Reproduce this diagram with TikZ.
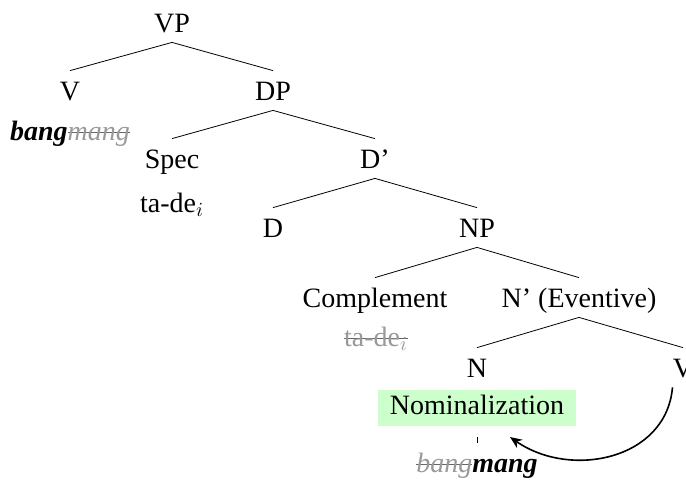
\documentclass[tikz,border=0pt]{standalone}
\usepackage{fontspec}
\setmainfont{Liberation Serif}
\usetikzlibrary{arrows.meta}

% struck-out (moved) material
\newsavebox{\strikebox}
\newcommand{\struck}[1]{\sbox{\strikebox}{\textcolor{black!40}{#1}}%
  \rlap{\textcolor{black!60}{\rule[0.55ex]{\wd\strikebox}{0.5pt}}}\usebox{\strikebox}}

\begin{document}
\begin{tikzpicture}[
            x=0.5pt, y=0.5pt,
            lbl/.style = {inner sep=0pt, text height=14.5pt, text depth=5pt, font={\fontsize{14}{16}\selectfont}},
            hl/.style = {fill=green!20, inner xsep=6pt, inner ysep=2.25pt, text height=10pt, text depth=3.5pt, font={\fontsize{14}{16}\selectfont}},
            move/.style = {thick, -{Stealth[length=6pt, width=5pt]}},
        ]
            \useasboundingbox (0,0) rectangle (686,-479);

            % Upper part of the tree
            \node[lbl] (VP) at (172,-22.5) {VP};
            \node[lbl] (V) at (70,-90.5) {V};
            \node[lbl] (DP) at (273,-90.5) {DP};
            \node[lbl] (bm1) at (70,-130.5) {\textbf{\textit{bang}}\struck{\textit{mang}}};
            \node[lbl] (Spec) at (172,-158.5) {Spec};
            \node[lbl] (tade) at (172,-202.5) {ta-de$_i$};
            \node[lbl] (Dbar) at (375,-158.5) {D’};
            \node[lbl] (D) at (273,-227.5) {D};
            \node[lbl] (NP) at (477,-227.5) {NP};

            % Lower part of the tree
            \node[lbl] (Comp) at (375,-297.5) {Complement};
            \node[lbl] (tade2) at (376,-336.5) {\struck{ta-de$_i$}};
            \node[lbl] (Nbar) at (579,-297.5) {N’ (Eventive)};
            \node[lbl] (N) at (477,-367.5) {N};
            \node[lbl] (V2) at (683,-367.5) {V};
            \node[hl] (nom) at (477,-408) {Nominalization};
            \node[lbl] (bm2) at (477,-462.5) {\struck{\textit{bang}}\textbf{\textit{mang}}};

            % Branches
            \draw (VP.south) -- (V.north);
            \draw (VP.south) -- (DP.north);
            \draw (DP.south) -- (Spec.north);
            \draw (DP.south) -- (Dbar.north);
            \draw (Dbar.south) -- (D.north);
            \draw (Dbar.south) -- (NP.north);
            \draw (NP.south) -- (Comp.north);
            \draw (NP.south) -- (Nbar.north);
            \draw (Nbar.south) -- (N.north);
            \draw (Nbar.south) -- (V2.north);
            \draw[shorten <=5.5pt] (nom.south) -- (bm2.north);

            % Head movement V -> N
            \coordinate (tip) at (510,-437);
            \draw[move] (V2.south west) to[out=-95, in=-35, looseness=1.1] (tip);
        \end{tikzpicture}
\end{document}
